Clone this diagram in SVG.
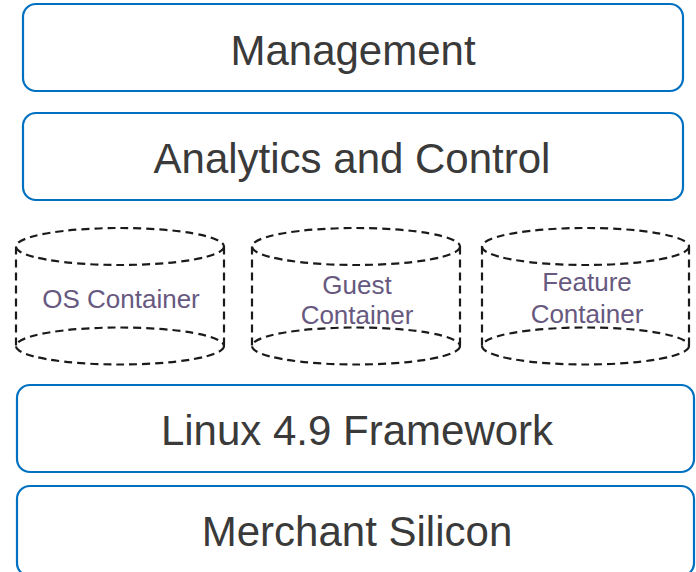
<svg xmlns="http://www.w3.org/2000/svg" width="696" height="572" viewBox="0 0 696 572">
<style>
.box{fill:#ffffff;stroke:#0070c0;stroke-width:2.2}
.lbl{font-family:"Liberation Sans",Arial,sans-serif;font-size:42px;fill:#3a3a3a;text-anchor:middle}
.cyl{fill:none;stroke:#1a1a1a;stroke-width:2.2;stroke-dasharray:8 5}
.clbl{font-family:"Liberation Sans",Arial,sans-serif;font-size:26px;fill:#67597f;text-anchor:middle}
</style>
<rect width="696" height="572" fill="#ffffff"/>
<g id="management">
<rect class="box" x="23" y="4" width="660" height="87" rx="13"/>
<text class="lbl" x="353" y="65">Management</text>
</g>
<g id="analytics">
<rect class="box" x="23" y="113" width="660" height="87" rx="13"/>
<text class="lbl" x="352" y="173">Analytics and Control</text>
</g>
<g id="os-container">
<ellipse class="cyl" cx="120" cy="246.5" rx="104" ry="18.5"/>
<ellipse class="cyl" cx="120" cy="346" rx="104" ry="18.5"/>
<line class="cyl" x1="16" y1="246.5" x2="16" y2="346"/>
<line class="cyl" x1="224" y1="246.5" x2="224" y2="346"/>
<text class="clbl" x="121" y="308">OS Container</text>
</g>
<g id="guest-container">
<ellipse class="cyl" cx="356" cy="246.5" rx="104" ry="18.5"/>
<ellipse class="cyl" cx="356" cy="346" rx="104" ry="18.5"/>
<line class="cyl" x1="252" y1="246.5" x2="252" y2="346"/>
<line class="cyl" x1="460" y1="246.5" x2="460" y2="346"/>
<text class="clbl" x="357" y="294">Guest</text>
<text class="clbl" x="357" y="324">Container</text>
</g>
<g id="feature-container">
<ellipse class="cyl" cx="585.5" cy="246.5" rx="103.5" ry="18.5"/>
<ellipse class="cyl" cx="585.5" cy="346" rx="103.5" ry="18.5"/>
<line class="cyl" x1="482" y1="246.5" x2="482" y2="346"/>
<line class="cyl" x1="689" y1="246.5" x2="689" y2="346"/>
<text class="clbl" x="587" y="291">Feature</text>
<text class="clbl" x="587" y="323">Container</text>
</g>
<g id="linux">
<rect class="box" x="17" y="385" width="677" height="87" rx="13"/>
<text class="lbl" x="357" y="445">Linux 4.9 Framework</text>
</g>
<g id="merchant-silicon">
<rect class="box" x="17" y="486" width="677" height="90" rx="13"/>
<text class="lbl" x="357" y="546">Merchant Silicon</text>
</g>
<g id="connectors"></g>
</svg>
